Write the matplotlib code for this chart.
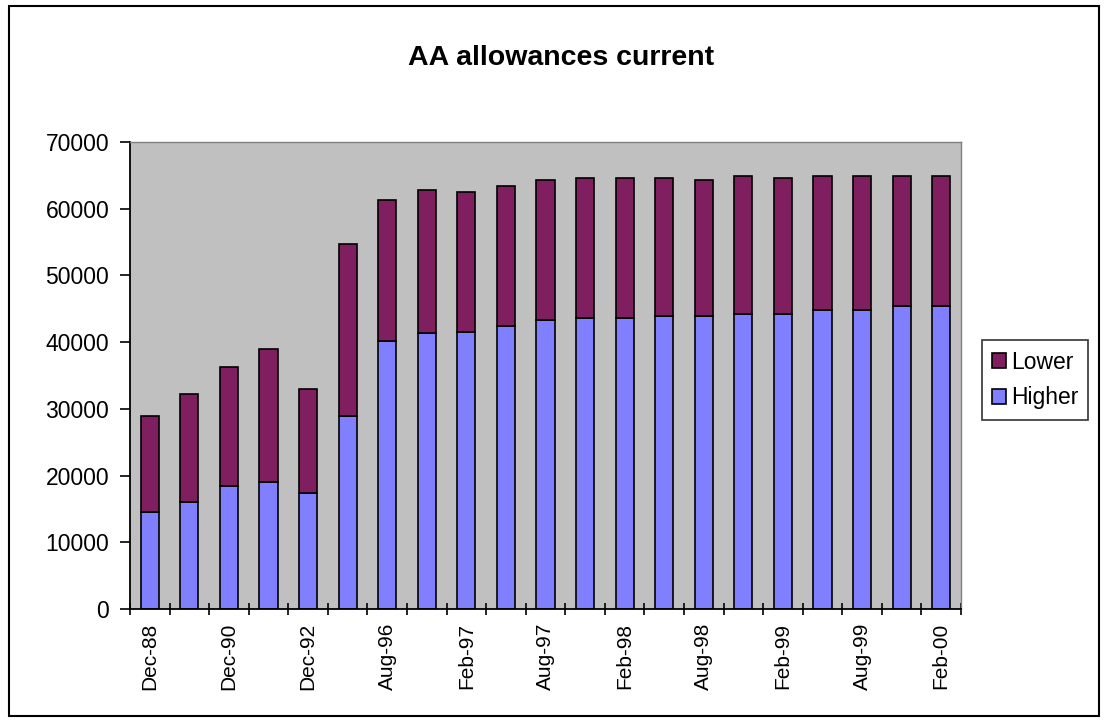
import matplotlib.pyplot as plt
import numpy as np
from matplotlib.patches import Rectangle

plt.rcParams['font.family'] = ['Liberation Sans', 'DejaVu Sans']

# data
dates = ["Dec-88", "Dec-89", "Dec-90", "Dec-91", "Dec-92", "Dec-93", "Aug-96",
         "Nov-96", "Feb-97", "May-97", "Aug-97", "Nov-97", "Feb-98", "May-98",
         "Aug-98", "Nov-98", "Feb-99", "May-99", "Aug-99", "Nov-99", "Feb-00"]
higher = [14600, 16100, 18500, 19100, 17350, 29000, 40100, 41300, 41500, 42400,
          43300, 43600, 43600, 43900, 43900, 44200, 44200, 44800, 44800, 45400, 45400]
total = [29000, 32300, 36200, 38900, 32950, 54700, 61300, 62800, 62500, 63400,
         64300, 64600, 64600, 64600, 64300, 64900, 64600, 64900, 64900, 64900, 64900]
lower = [t - h for t, h in zip(total, higher)]

fig = plt.figure(figsize=(11.08, 7.22), dpi=100)
fig.patches.append(Rectangle((0.008, 0.008), 0.984, 0.984, transform=fig.transFigure,
                             fill=False, edgecolor='black', linewidth=1.5))

ax = fig.add_axes([130/1108, 1-609/722, 831/1108, 467/722])
ax.set_facecolor('#C0C0C0')
x = np.arange(len(dates))
ax.bar(x, higher, width=0.46, color='#8080FF', edgecolor='black', linewidth=1.2, label='Higher')
ax.bar(x, lower, width=0.46, bottom=higher, color='#7F1F5F', edgecolor='black', linewidth=1.2, label='Lower')

ax.set_xlim(-0.5, len(dates) - 0.5)
ax.set_ylim(0, 70000)
ax.set_yticks(range(0, 70001, 10000))
ax.set_xticks(x[::2])
ax.set_xticklabels(dates[::2], rotation=90, fontsize=15)
ax.set_xticks(np.arange(-0.5, len(dates)), minor=True)
ax.tick_params(axis='x', which='major', length=0, pad=10)
ax.tick_params(axis='x', which='minor', direction='inout', length=9, width=1.2)
ax.tick_params(axis='y', direction='out', length=7, width=1.2, labelsize=16.5, pad=8)
for s in ['top', 'right']:
    ax.spines[s].set_color('#808080')
    ax.spines[s].set_linewidth(1)
for s in ['left', 'bottom']:
    ax.spines[s].set_linewidth(1.3)

fig.text(561/1108, 1-58/722, "AA allowances current", ha='center', va='center',
         fontsize=20.5, fontweight='bold')

h, l = ax.get_legend_handles_labels()
leg = fig.legend(h[::-1], l[::-1], loc='center left', bbox_to_anchor=(982/1108, 1-380/722),
                 fontsize=16.5, frameon=True, fancybox=False, edgecolor='black',
                 handlelength=0.6, handleheight=0.6, handletextpad=0.2,
                 borderpad=0.45, labelspacing=0.55, borderaxespad=0)
leg.get_frame().set_linewidth(1.2)

fig.savefig('out.png', dpi=100)
